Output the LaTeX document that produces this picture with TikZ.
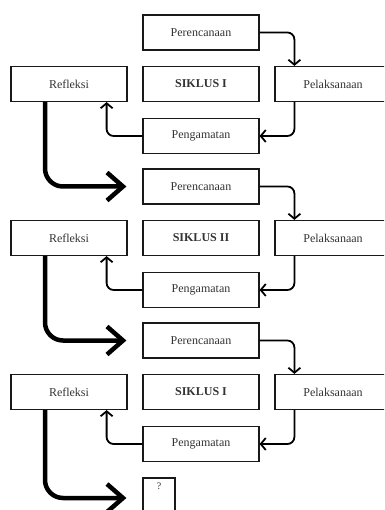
\documentclass[tikz,border=0pt]{standalone}
\usepackage{fontspec}
\setmainfont{Liberation Serif}
\usetikzlibrary{arrows.meta}
\begin{document}
\begin{tikzpicture}[x=1pt,y=-1pt,
  box/.style={draw=black!90, line width=1.2pt, minimum width=116pt, minimum height=35pt, inner sep=0pt, font=\fontsize{12}{14}\selectfont, text=black!80},
  flow/.style={line width=1.8pt, rounded corners=7pt, -{Straight Barb[length=5pt,width=12pt]}},
  bigarrow/.style={line width=4.5pt, rounded corners=18pt, -{Straight Barb[length=16pt,width=28pt]}}]
\useasboundingbox (0,0) rectangle (384,510);
\clip (0,0) rectangle (384,510);
\foreach \y/\lab/\i in {15/SIKLUS I/1, 169/SIKLUS II/2, 323/SIKLUS I/3} {
  \node[box] (per\i) at (201,\y+17.5) {Perencanaan};
  \node[box] (ref\i) at (69,\y+69) {Refleksi};
  \node[box, font=\fontsize{12}{14}\selectfont\bfseries] (sik\i) at (201,\y+69) {\lab};
  \node[box] (pel\i) at (333,\y+69) {Pelaksanaan};
  \node[box] (pen\i) at (201,\y+121) {Pengamatan};
  \draw[flow] (per\i.east) -| ([xshift=20pt]pel\i.north west);
  \draw[flow] ([xshift=20pt]pel\i.south west) |- (pen\i.east);
  \draw[flow] (pen\i.west) -| ([xshift=-21pt]ref\i.south east);
}
\node[box, minimum width=32pt, minimum height=40pt] (q) at (159,498) {};
\node[font=\fontsize{10}{12}\selectfont, text=black!80] (qm) at (159,486) {?};
\draw[bigarrow] ([xshift=-24pt]ref1.south) |- ([xshift=-16pt]per2.west);
\draw[bigarrow] ([xshift=-24pt]ref2.south) |- ([xshift=-16pt]per3.west);
\draw[bigarrow] ([xshift=-24pt]ref3.south) |- ([xshift=-16pt]q.west);
\end{tikzpicture}
\end{document}
